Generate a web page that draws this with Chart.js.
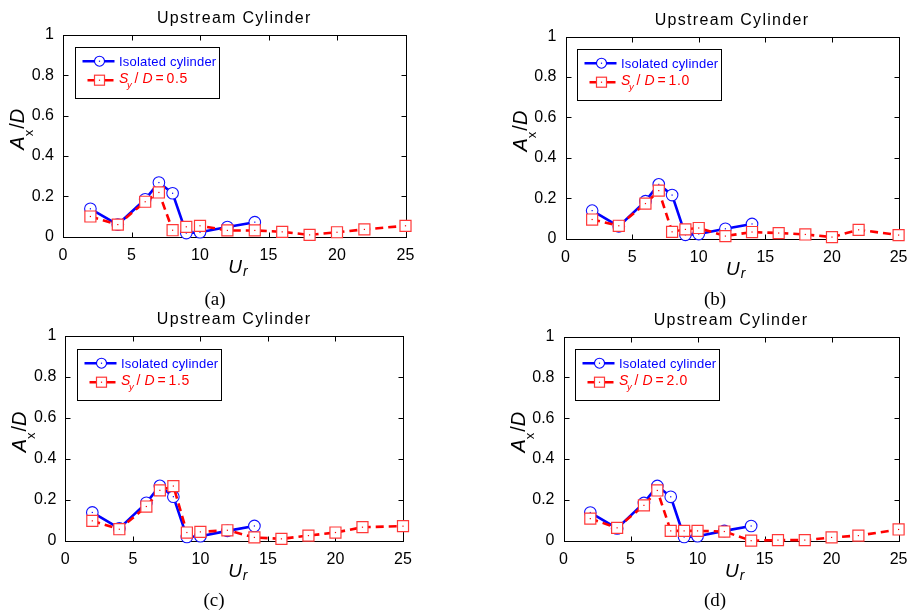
<!DOCTYPE html>
<html>
<head>
<meta charset="utf-8">
<script src="https://cdn.jsdelivr.net/npm/chart.js@4.4.1/dist/chart.umd.min.js"></script>
<style>
  html, body { margin: 0; padding: 0; background: #ffffff; }
  #wrap { position: relative; width: 917px; height: 615px; overflow: hidden; background: #ffffff; }
  #wrap canvas { position: absolute; left: 0; top: 0; }
</style>
</head>
<body>
<div id="wrap">
  <canvas id="c0" width="917" height="615"></canvas>
  <canvas id="c1" width="917" height="615"></canvas>
  <canvas id="c2" width="917" height="615"></canvas>
  <canvas id="c3" width="917" height="615"></canvas>
</div>
<script>
// ---------------- data ----------------
const urIsolated = [2, 4, 6, 7, 8, 9, 10, 12, 14];
const axIsolated = [0.138, 0.060, 0.185, 0.268, 0.215, 0.018, 0.022, 0.048, 0.072];

const urPair = [2, 4, 6, 7, 8, 9, 10, 12, 14, 16, 18, 20, 22, 25];
const axSy05 = [0.100, 0.060, 0.173, 0.219, 0.032, 0.049, 0.054, 0.031, 0.031, 0.024, 0.009, 0.022, 0.036, 0.054];
const axSy10 = [0.094, 0.063, 0.173, 0.237, 0.033, 0.045, 0.052, 0.012, 0.032, 0.027, 0.020, 0.007, 0.043, 0.017];
const axSy15 = [0.097, 0.056, 0.167, 0.246, 0.267, 0.040, 0.043, 0.051, 0.016, 0.009, 0.025, 0.040, 0.066, 0.071];
const axSy20 = [0.108, 0.063, 0.173, 0.246, 0.048, 0.048, 0.048, 0.045, 0.000, 0.003, 0.003, 0.016, 0.025, 0.055];

const syValues = ['0.5', '1.0', '1.5', '2.0'];
const captions = ['(a)', '(b)', '(c)', '(d)'];
const titleText = 'Upstream Cylinder';
const isolatedLabel = 'Isolated cylinder';
const xTickLabels = ['0', '5', '10', '15', '20', '25'];
const yTickLabels = ['0', '0.2', '0.4', '0.6', '0.8', '1'];

// ---------------- layout (positions only) ----------------
const panels = [
  { id: 'c0', L: 63,    R: 405.5, T: 34.7,  B: 236.7, cap: [215, 300.5] },
  { id: 'c1', L: 565.5, R: 900.5, T: 36.5,  B: 238.5, cap: [715, 300.5] },
  { id: 'c2', L: 65.3,  R: 403,   T: 336,   B: 540.7, cap: [214, 601] },
  { id: 'c3', L: 563.5, R: 902,   T: 336.5, B: 540.7, cap: [715, 601] }
];
const seriesList = [axSy05, axSy10, axSy15, axSy20];
const Y_AXIS_W = 56;
const X_AXIS_H = 30;

const SANS = '"Liberation Sans", Arial, Helvetica, sans-serif';
const SERIF = '"Liberation Serif", "Times New Roman", serif';
const BLUE = '#0000ff';
const RED = '#ff0000';

function toXY(xs, ys) { return xs.map((x, k) => ({ x: x, y: ys[k] })); }

function setLS(ctx, v) { try { ctx.letterSpacing = v; } catch (e) {} }

function makeDeco(idx) {
  return {
    id: 'deco' + idx,
    beforeDatasetsDraw(chart) {
      const ctx = chart.ctx, ca = chart.chartArea;
      const xs = chart.scales.x, ys = chart.scales.y;
      ctx.save();
      ctx.strokeStyle = '#000';
      ctx.lineWidth = 1;
      const l = Math.round(ca.left) + 0.5, r = Math.round(ca.right) + 0.5;
      const t = Math.round(ca.top) + 0.5, b = Math.round(ca.bottom) + 0.5;
      ctx.strokeRect(l, t, r - l, b - t);
      ctx.beginPath();
      [5, 10, 15, 20].forEach(v => {
        const px = Math.round(xs.getPixelForValue(v)) + 0.5;
        ctx.moveTo(px, b); ctx.lineTo(px, b - 5);
        ctx.moveTo(px, t); ctx.lineTo(px, t + 5);
      });
      [0.2, 0.4, 0.6, 0.8].forEach(v => {
        const py = Math.round(ys.getPixelForValue(v)) + 0.5;
        ctx.moveTo(l, py); ctx.lineTo(l + 5, py);
        ctx.moveTo(r, py); ctx.lineTo(r - 5, py);
      });
      ctx.stroke();
      ctx.restore();
    },
    afterDatasetDraw(chart, args) {
      const ctx = chart.ctx;
      const col = args.index === 0 ? BLUE : RED;
      ctx.save();
      ctx.fillStyle = col;
      args.meta.data.forEach(pt => {
        ctx.fillRect(pt.x - 0.6, pt.y - 0.6, 1.2, 1.2);
      });
      ctx.restore();
    },
    afterDraw(chart) {
      const ctx = chart.ctx, ca = chart.chartArea;
      const p = panels[idx];
      const cx = (ca.left + ca.right) / 2;
      ctx.save();

      // title
      ctx.font = '16px ' + SANS;
      setLS(ctx, '1.3px');
      ctx.fillStyle = '#000';
      ctx.textAlign = 'center';
      ctx.textBaseline = 'middle';
      ctx.fillText(titleText, cx, ca.top - 16.3);
      setLS(ctx, '0px');

      // x axis label U_r
      ctx.textAlign = 'left';
      ctx.textBaseline = 'alphabetic';
      ctx.font = 'italic 19px ' + SANS;
      const wU = ctx.measureText('U').width;
      ctx.fillText('U', cx - 6, ca.bottom + 36.5);
      ctx.font = 'italic 14px ' + SANS;
      ctx.fillText('r', cx - 6 + wU + 1, ca.bottom + 39);

      // y axis label A_x / D (rotated)
      ctx.save();
      ctx.translate(ca.left - 39, (ca.top + ca.bottom) / 2 + 14);
      ctx.rotate(-Math.PI / 2);
      let x = 0;
      ctx.font = 'italic 20px ' + SANS;
      ctx.fillText('A', x, 0); x += ctx.measureText('A').width;
      ctx.font = '13px ' + SANS;
      ctx.fillText('x', x, 9); x += ctx.measureText('x').width + 1;
      ctx.font = '20px ' + SANS;
      ctx.fillText('/', x, 0); x += ctx.measureText('/').width;
      ctx.font = 'italic 20px ' + SANS;
      ctx.fillText('D', x, 0);
      ctx.restore();

      // caption
      ctx.font = '19px ' + SERIF;
      ctx.textAlign = 'center';
      ctx.textBaseline = 'middle';
      ctx.fillStyle = '#000';
      ctx.fillText(captions[idx], p.cap[0], p.cap[1]);

      // legend
      const bx = Math.round(ca.left + 11.5) + 0.5;
      const by = Math.round(ca.top + 12.5) + 0.5;
      ctx.fillStyle = '#fff';
      ctx.fillRect(bx, by, 144, 51);
      ctx.strokeStyle = '#000';
      ctx.lineWidth = 1;
      ctx.strokeRect(bx, by, 144, 51);

      // row 1
      const y1 = by + 13.7;
      ctx.strokeStyle = BLUE;
      ctx.lineWidth = 2.4;
      ctx.beginPath(); ctx.moveTo(bx + 7, y1); ctx.lineTo(bx + 39, y1); ctx.stroke();
      ctx.lineWidth = 1.1;
      ctx.fillStyle = '#fff';
      ctx.beginPath(); ctx.arc(bx + 24, y1, 5, 0, Math.PI * 2); ctx.fill(); ctx.stroke();
      ctx.fillStyle = BLUE;
      ctx.fillRect(bx + 23.4, y1 - 0.6, 1.2, 1.2);
      ctx.font = '13px ' + SANS;
      ctx.textAlign = 'left';
      ctx.textBaseline = 'alphabetic';
      setLS(ctx, '0.2px');
      ctx.fillText(isolatedLabel, bx + 43.5, by + 18);
      setLS(ctx, '0px');

      // row 2
      const y2 = by + 32.7;
      ctx.strokeStyle = RED;
      ctx.lineWidth = 2.4;
      ctx.beginPath();
      ctx.moveTo(bx + 12, y2); ctx.lineTo(bx + 20, y2);
      ctx.moveTo(bx + 29, y2); ctx.lineTo(bx + 38, y2);
      ctx.stroke();
      ctx.lineWidth = 1.2;
      ctx.strokeStyle = '#ff3838';
      ctx.fillStyle = '#fff';
      ctx.fillRect(bx + 19, y2 - 5, 10, 10);
      ctx.strokeRect(bx + 19, y2 - 5, 10, 10);
      ctx.fillStyle = RED;
      ctx.fillRect(bx + 23.4, y2 - 0.6, 1.2, 1.2);
      const yb = by + 35.5;
      ctx.font = 'italic 14px ' + SANS;
      ctx.fillText('S', bx + 43.5, yb);
      ctx.font = 'italic 9.5px ' + SANS;
      ctx.fillText('y', bx + 51.5, yb + 4.5);
      ctx.font = '14px ' + SANS;
      ctx.fillText('/', bx + 59, yb);
      ctx.font = 'italic 14px ' + SANS;
      ctx.fillText('D', bx + 67, yb);
      ctx.font = '14px ' + SANS;
      ctx.fillText('=', bx + 80, yb);
      setLS(ctx, '0.7px');
      ctx.fillText(syValues[idx], bx + 91, yb);
      setLS(ctx, '0px');

      ctx.restore();
    }
  };
}

panels.forEach((p, i) => {
  new Chart(document.getElementById(p.id), {
    type: 'line',
    data: {
      datasets: [
        {
          label: isolatedLabel,
          data: toXY(urIsolated, axIsolated),
          borderColor: BLUE,
          borderWidth: 2.6,
          pointStyle: 'circle',
          pointRadius: 5.8,
          pointBorderWidth: 1.1,
          pointBorderColor: '#1010ff',
          pointBackgroundColor: '#ffffff',
          tension: 0,
          order: 1,
          clip: false
        },
        {
          label: 'Sy/D = ' + syValues[i],
          data: toXY(urPair, seriesList[i]),
          borderColor: RED,
          borderWidth: 2.6,
          borderDash: [8, 5],
          pointStyle: 'rect',
          pointRadius: 7.8,
          pointBorderWidth: 1.2,
          pointBorderColor: '#ff3838',
          pointBackgroundColor: '#ffffff',
          tension: 0,
          order: 0,
          clip: false
        }
      ]
    },
    options: {
      responsive: false,
      animation: false,
      events: [],
      layout: { padding: { left: p.L - Y_AXIS_W, right: 917 - p.R, top: p.T, bottom: 615 - p.B - X_AXIS_H } },
      plugins: { legend: { display: false }, tooltip: { enabled: false }, title: { display: false } },
      scales: {
        x: {
          type: 'linear', min: 0, max: 25,
          ticks: {
            stepSize: 5, padding: 9.5, maxRotation: 0, color: '#000', font: { family: SANS, size: 16 },
            callback: (v, k) => xTickLabels[k]
          },
          grid: { display: false, drawTicks: false },
          border: { display: false },
          afterFit: s => { s.height = X_AXIS_H; }
        },
        y: {
          type: 'linear', min: 0, max: 1,
          ticks: {
            stepSize: 0.2, padding: 9, color: '#000', font: { family: SANS, size: 16 },
            callback: (v, k) => yTickLabels[k]
          },
          grid: { display: false, drawTicks: false },
          border: { display: false },
          afterFit: s => { s.width = Y_AXIS_W; }
        }
      }
    },
    plugins: [makeDeco(i)]
  });
});
</script>
</body>
</html>
